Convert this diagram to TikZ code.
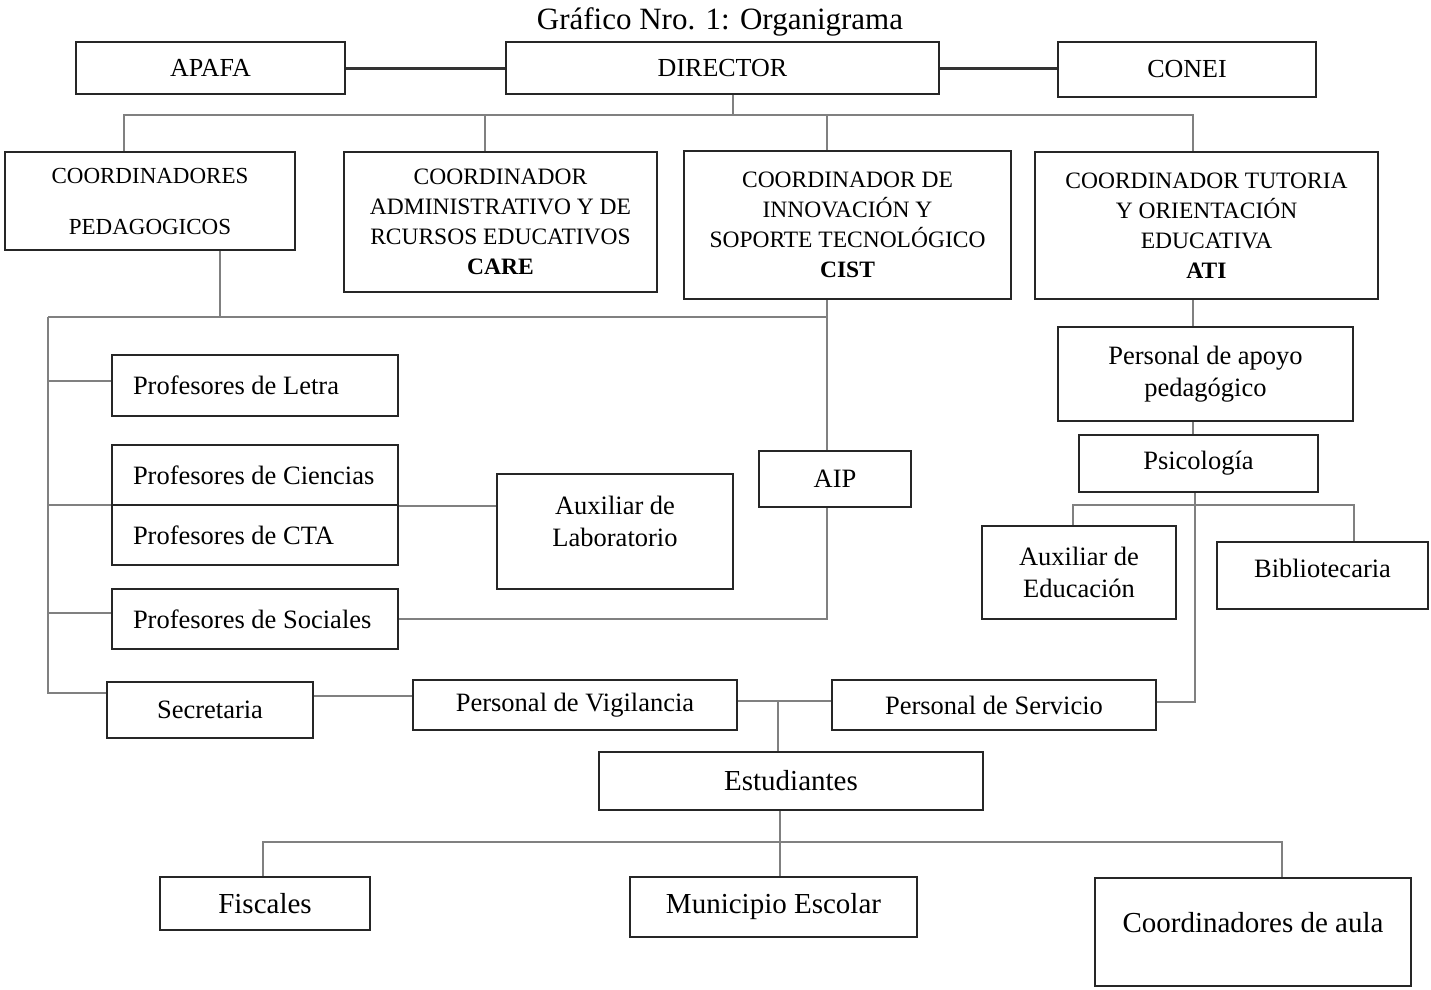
\documentclass[tikz,border=0pt]{standalone}
\usepackage{fontspec}
\setmainfont{Liberation Serif}
\newcommand{\fs}[2]{\fontsize{#1}{#2}\selectfont}
\newcommand{\lbx}[1]{\makebox[244pt][l]{#1}}
\begin{document}
\begin{tikzpicture}[x=1pt,y=-1pt,
  box/.style={draw=black!85,line width=2.2pt,fill=white,inner sep=0pt,align=center},
  conn/.style={draw=black!50,line width=1.6pt},
  strong/.style={draw=black!80,line width=3pt},
  tf/.style={font=\fs{23.5}{30}},
  mf/.style={font=\fs{26.5}{32}},
  bf/.style={font=\fs{29}{34}},
  leftbox/.style={box,mf,inner xsep=21pt,inner ysep=0pt,minimum height=60pt}]
\fill[white] (0,0) rectangle (1431,989);
\useasboundingbox (0,0) rectangle (1431,989);

\node[font=\fs{31}{36},anchor=base] (title) at (720,29) {Gráfico Nro. 1: Organigrama};

% top row
\node[box,font=\fs{26}{30},minimum width=269pt,minimum height=52pt] (apafa) at (210.5,68) {APAFA};
\node[box,font=\fs{26}{30},minimum width=433pt,minimum height=52pt] (director) at (722.5,68) {DIRECTOR};
\node[box,font=\fs{26}{30},minimum width=258pt,minimum height=55pt] (conei) at (1187,69.5) {CONEI};

% coordinators
\node[box,font=\fs{23}{51},minimum width=290pt,minimum height=98pt] (cped) at (150,201) {COORDINADORES\\PEDAGOGICOS};
\node[box,tf,minimum width=313pt,minimum height=140pt] (care) at (500.5,222) {COORDINADOR\\ADMINISTRATIVO Y DE\\RCURSOS EDUCATIVOS\\\textbf{CARE}};
\node[box,tf,minimum width=327pt,minimum height=148pt] (cist) at (847.5,225) {COORDINADOR DE\\INNOVACIÓN Y\\SOPORTE TECNOLÓGICO\\\textbf{CIST}};
\node[box,tf,minimum width=343pt,minimum height=147pt] (ati) at (1206.5,225.5) {COORDINADOR TUTORIA\\Y ORIENTACIÓN\\EDUCATIVA\\\textbf{ATI}};

% teachers
\node[leftbox,minimum height=61pt] (letra) at (255,385.5) {\lbx{Profesores de Letra}};
\node[leftbox] (ciencias) at (255,475) {\lbx{Profesores de Ciencias}};
\node[leftbox] (cta) at (255,535) {\lbx{Profesores de CTA}};
\node[leftbox] (sociales) at (255,619) {\lbx{Profesores de Sociales}};
\node[box,mf,minimum width=236pt,minimum height=115pt] (auxlab) at (615,531.5) {Auxiliar de\\Laboratorio\rule[-20pt]{0pt}{20pt}};
\node[box,mf,minimum width=152pt,minimum height=56pt] (aip) at (835,479) {AIP};

% right column
\node[box,mf,minimum width=295pt,minimum height=94pt] (apoyo) at (1205.5,374) {Personal de apoyo\\pedagógico};
\node[box,mf,minimum width=239pt,minimum height=57pt] (psico) at (1198.5,463.5) {Psicología};
\node[box,mf,minimum width=194pt,minimum height=93pt] (auxedu) at (1079,572.5) {Auxiliar de\\Educación};
\node[box,mf,minimum width=211pt,minimum height=67pt] (biblio) at (1322.5,575.5) {Bibliotecaria\rule[-15pt]{0pt}{15pt}};

% staff row
\node[box,mf,minimum width=206pt,minimum height=56pt] (secre) at (210,710) {Secretaria};
\node[box,mf,minimum width=324pt,minimum height=50pt] (vigil) at (575,705) {Personal de Vigilancia};
\node[box,mf,minimum width=324pt,minimum height=50pt] (servi) at (994,705) {Personal de Servicio};

% students
\node[box,bf,minimum width=384pt,minimum height=58pt] (estud) at (791,781) {Estudiantes};
\node[box,bf,minimum width=210pt,minimum height=53pt] (fisc) at (265,903.5) {Fiscales};
\node[box,bf,minimum width=287pt,minimum height=60pt] (muni) at (773.5,907) {Municipio Escolar};
\node[box,bf,minimum width=316pt,minimum height=108pt] (caula) at (1253,932) {Coordinadores de aula\rule[-19pt]{0pt}{19pt}};

% junction coordinates
\coordinate (jD) at (733,115);
\coordinate (jL) at (124,115);
\coordinate (jR) at (1193,115);
\coordinate (jC) at (485,115);
\coordinate (jS) at (827,115);
\coordinate (k1) at (220,317);
\coordinate (kL) at (48,317);
\coordinate (kR) at (827,317);
\coordinate (kB) at (48,693);
\coordinate (bLetra) at (48,381);
\coordinate (bCien) at (48,505);
\coordinate (bSoc) at (48,613);
\coordinate (pL) at (1073,505);
\coordinate (pR) at (1354,505);
\coordinate (pS) at (1195,702);
\coordinate (sv) at (363,696);
\coordinate (vs) at (778,701);
\coordinate (eB) at (780,842);
\coordinate (eL) at (263,842);
\coordinate (eR) at (1282,842);

% top connectors
\draw[strong] (apafa.east) -- (director.west);
\draw[strong] (director.east) -- (director.east -| conei.west);

% director bus
\draw[conn] (director.south -| jD) -- (jD);
\draw[conn] (cped.north -| jL) -- (jL) -- (jR) -- (ati.north -| jR);
\draw[conn] (jC) -- (care.north -| jC);
\draw[conn] (jS) -- (cist.north -| jS);

% pedagogical bus
\draw[conn] (cped.south -| k1) -- (k1);
\draw[conn] (kL) -- (kR);
\draw[conn] (cist.south -| kR) -- (aip.north -| kR);
\draw[conn] (kL) -- (kB) -- (kB -| secre.west);
\draw[conn] (bLetra) -- (bLetra -| letra.west);
\draw[conn] (bCien) -- (bCien -| ciencias.west);
\draw[conn] (ciencias.south east) -- (ciencias.south east -| auxlab.west);
\draw[conn] (bSoc) -- (bSoc -| sociales.west);
\draw[conn] (sociales.east) -- (sociales.east -| kR) -- (aip.south -| kR);

% right column
\draw[conn] (ati.south -| jR) -- (apoyo.north -| jR);
\draw[conn] (apoyo.south -| jR) -- (psico.north -| jR);
\draw[conn] (auxedu.north -| pL) -- (pL) -- (pR) -- (biblio.north -| pR);
\draw[conn] (psico.south -| pS) -- (pS) -- (pS -| servi.east);

% staff row
\draw[conn] (sv -| secre.east) -- (sv -| vigil.west);
\draw[conn] (vs -| vigil.east) -- (vs -| servi.west);
\draw[conn] (vs) -- (estud.north -| vs);

% students bus
\draw[conn] (estud.south -| eB) -- (muni.north -| eB);
\draw[conn] (fisc.north -| eL) -- (eL) -- (eR) -- (caula.north -| eR);
\end{tikzpicture}
\end{document}
